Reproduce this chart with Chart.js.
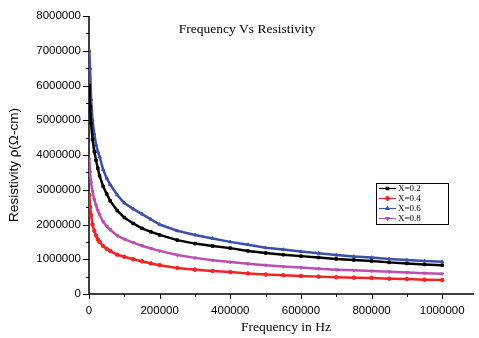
<!DOCTYPE html>
<html lang="en">
<head>
    <meta charset="UTF-8">
    <title>Frequency Vs Resistivity</title>
    <script src="https://cdn.jsdelivr.net/npm/chart.js"></script>
    <style>
        html, body { margin: 0; padding: 0; background: #ffffff; }
        #wrap { width: 479px; height: 338px; }
    </style>
</head>
<body>
    <div id="wrap"><canvas id="myChart" width="479" height="338"></canvas></div>
    <script>
        // frequency in Hz
        var frequency = [1000, 3000, 6000, 10000, 15000, 20000, 25000, 30000, 40000, 50000, 60000, 80000,
            100000, 125000, 150000, 175000, 200000, 250000, 300000, 350000, 400000, 450000, 500000,
            550000, 600000, 650000, 700000, 750000, 800000, 850000, 900000, 950000, 1000000];

        // resistivity in ohm-cm
        var rhoX02 = [6000000, 5400000, 4900000, 4450000, 4100000, 3850000, 3620000, 3400000, 3100000, 2880000, 2680000, 2400000,
            2200000, 2030000, 1890000, 1790000, 1700000, 1550000, 1450000, 1380000, 1320000, 1240000, 1180000,
            1130000, 1090000, 1050000, 1010000, 980000, 950000, 910000, 880000, 850000, 830000];
        var rhoX04 = [2850000, 2500000, 2270000, 2000000, 1820000, 1680000, 1570000, 1500000, 1380000, 1300000, 1240000, 1130000,
            1070000, 1000000, 940000, 880000, 830000, 750000, 700000, 660000, 630000, 590000, 560000,
            540000, 520000, 500000, 480000, 470000, 460000, 440000, 430000, 410000, 400000];
        var rhoX06 = [7000000, 6500000, 5600000, 5000000, 4600000, 4300000, 4100000, 3950000, 3580000, 3330000, 3150000, 2850000,
            2620000, 2450000, 2300000, 2150000, 2000000, 1820000, 1700000, 1600000, 1500000, 1420000, 1330000,
            1280000, 1220000, 1170000, 1120000, 1080000, 1050000, 1010000, 980000, 950000, 930000];
        var rhoX08 = [3880000, 3500000, 3200000, 2950000, 2720000, 2550000, 2400000, 2280000, 2080000, 1950000, 1850000, 1680000,
            1580000, 1480000, 1390000, 1310000, 1240000, 1120000, 1040000, 970000, 920000, 870000, 830000,
            790000, 760000, 730000, 700000, 680000, 660000, 640000, 620000, 600000, 580000];

        var seriesNames = ['X=0.2', 'X=0.4', 'X=0.6', 'X=0.8'];
        var xTicks = [0, 200000, 400000, 600000, 800000, 1000000];
        var yTicks = [0, 1000000, 2000000, 3000000, 4000000, 5000000, 6000000, 7000000, 8000000];

        var colors = ['#000000', '#f02424', '#3a50ac', '#bb4fb4'];
        var markers = ['rect', 'circle', 'triangle', 'triangle'];
        var rotations = [0, 0, 0, 180];
        var allSeries = [rhoX02, rhoX04, rhoX06, rhoX08];

        function toPoints(vals) {
            return frequency.map(function (f, i) { return { x: f, y: vals[i] }; });
        }

        var datasets = allSeries.map(function (vals, i) {
            return {
                label: seriesNames[i],
                data: toPoints(vals),
                borderColor: colors[i],
                backgroundColor: colors[i],
                borderWidth: 2.5,
                pointStyle: markers[i],
                rotation: rotations[i],
                pointRadius: 1.8,
                pointBorderWidth: 1,
                tension: 0
            };
        });

        // axes, tick marks, titles and legend drawn by hand to look like the Origin plot
        var axesPlugin = {
            id: 'originAxes',
            beforeDatasetsDraw: function (chart) {
                var ctx = chart.ctx;
                var xs = chart.scales.x, ys = chart.scales.y;
                var a = chart.chartArea;
                ctx.save();
                ctx.strokeStyle = '#000';
                ctx.lineWidth = 1.5;
                ctx.beginPath();
                ctx.moveTo(a.left, a.top);
                ctx.lineTo(a.left, a.bottom);
                ctx.lineTo(a.right, a.bottom);
                ctx.stroke();

                ctx.lineWidth = 1;
                // x ticks
                for (var v = 0; v <= 1000000; v += 100000) {
                    var px = Math.round(xs.getPixelForValue(v)) + 0.5;
                    var len = (v % 200000 === 0) ? 5 : 3;
                    ctx.beginPath();
                    ctx.moveTo(px, a.bottom);
                    ctx.lineTo(px, a.bottom + len);
                    ctx.stroke();
                }
                // y ticks
                for (var w = 0; w <= 8000000; w += 500000) {
                    var py = Math.round(ys.getPixelForValue(w)) + 0.5;
                    var l = (w % 1000000 === 0) ? 6 : 3;
                    ctx.beginPath();
                    ctx.moveTo(a.left - l, py);
                    ctx.lineTo(a.left, py);
                    ctx.stroke();
                }

                ctx.fillStyle = '#000';
                ctx.font = '11.5px "Liberation Sans", Arial, sans-serif';
                ctx.textAlign = 'center';
                ctx.textBaseline = 'middle';
                xTicks.forEach(function (t) {
                    ctx.fillText(String(t), xs.getPixelForValue(t), a.bottom + 17);
                });
                ctx.textAlign = 'right';
                yTicks.forEach(function (t) {
                    ctx.fillText(String(t), a.left - 8, ys.getPixelForValue(t));
                });

                ctx.font = '13.5px "Liberation Serif", "Times New Roman", serif';
                ctx.textAlign = 'center';
                ctx.fillText('Frequency in Hz', 286, 327);
                ctx.fillText('Frequency Vs Resistivity', 247, 29);

                ctx.font = '13.5px "Liberation Sans", Arial, sans-serif';
                ctx.translate(14, 165);
                ctx.rotate(-Math.PI / 2);
                ctx.fillText('Resistivity \u03c1(\u03a9-cm)', 0, 0);
                ctx.restore();
            },
            afterDraw: function (chart) {
                var ctx = chart.ctx;
                ctx.save();
                ctx.fillStyle = '#fff';
                ctx.fillRect(376.5, 183.5, 72, 41);
                ctx.strokeStyle = '#000';
                ctx.lineWidth = 1;
                ctx.strokeRect(376.5, 183.5, 72, 41);
                ctx.font = '9px "Liberation Serif", "Times New Roman", serif';
                ctx.textBaseline = 'middle';
                ctx.textAlign = 'left';
                seriesNames.forEach(function (name, i) {
                    var y = 188.5 + i * 10;
                    ctx.strokeStyle = colors[i];
                    ctx.fillStyle = colors[i];
                    ctx.lineWidth = 1.2;
                    ctx.beginPath();
                    ctx.moveTo(379, y);
                    ctx.lineTo(396, y);
                    ctx.stroke();
                    Chart.helpers.drawPoint(ctx, {
                        pointStyle: markers[i], rotation: rotations[i], radius: 1.8, borderWidth: 1
                    }, 387.5, y);
                    ctx.fillStyle = '#000';
                    ctx.fillText(name, 398, y + 0.5);
                });
                ctx.restore();
            }
        };

        document.addEventListener('DOMContentLoaded', function () {
            var ctx = document.getElementById('myChart').getContext('2d');
            new Chart(ctx, {
                type: 'line',
                data: { datasets: datasets },
                options: {
                    responsive: false,
                    animation: false,
                    devicePixelRatio: 1,
                    layout: { padding: { left: 89, top: 16, right: 0, bottom: 44 } },
                    plugins: {
                        legend: { display: false },
                        title: { display: false },
                        tooltip: { enabled: false }
                    },
                    scales: {
                        x: { type: 'linear', display: false, min: 0, max: 1090000 },
                        y: { type: 'linear', display: false, min: 0, max: 8000000 }
                    }
                },
                plugins: [axesPlugin]
            });
        });
    </script>
</body>
</html>
